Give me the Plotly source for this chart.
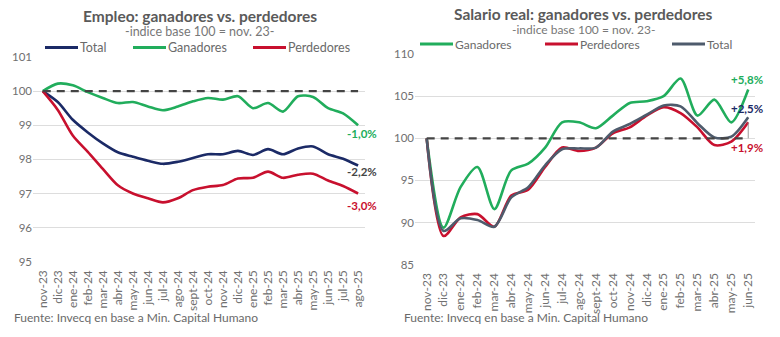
import plotly.graph_objects as go

W, H = 780, 337

# ---------------- Data ----------------
meses_emp = ["nov-23", "dic-23", "ene-24", "feb-24", "mar-24", "abr-24", "may-24", "jun-24",
             "jul-24", "ago-24", "sept-24", "oct-24", "nov-24", "dic-24", "ene-25", "feb-25",
             "mar-25", "abr-25", "may-25", "jun-25", "jul-25", "ago-25"]
emp_total = [100, 99.68, 99.16, 98.79, 98.47, 98.21, 98.08, 97.96, 97.87, 97.93, 98.04, 98.15,
             98.15, 98.25, 98.13, 98.30, 98.15, 98.32, 98.38, 98.15, 98.02, 97.82]
emp_ganadores = [100, 100.22, 100.17, 99.97, 99.80, 99.65, 99.68, 99.55, 99.44, 99.55, 99.70, 99.80,
                 99.75, 99.85, 99.50, 99.65, 99.40, 99.85, 99.83, 99.50, 99.35, 99.00]
emp_perdedores = [100, 99.45, 98.70, 98.22, 97.72, 97.24, 97.00, 96.86, 96.74, 96.86, 97.10, 97.20,
                  97.25, 97.44, 97.46, 97.64, 97.46, 97.55, 97.58, 97.38, 97.22, 97.00]

meses_sal = ["nov-23", "dic-23", "ene-24", "feb-24", "mar-24", "abr-24", "may-24", "jun-24",
             "jul-24", "ago-24", "sept-24", "oct-24", "nov-24", "dic-24", "ene-25", "feb-25",
             "mar-25", "abr-25", "may-25", "jun-25"]
sal_ganadores = [100, 89.4, 94.2, 96.6, 91.6, 96.2, 97.0, 98.9, 101.9, 101.9, 101.2, 102.7,
                 104.2, 104.4, 105.0, 107.1, 102.7, 104.6, 101.9, 105.8]
sal_perdedores = [100, 88.4, 90.6, 91.0, 89.5, 93.2, 93.9, 96.6, 98.9, 98.5, 98.9, 100.6,
                  101.3, 102.7, 103.7, 103.0, 101.3, 99.2, 99.6, 101.9]
sal_total = [100, 89.0, 90.5, 90.3, 89.5, 93.0, 94.2, 96.8, 98.7, 98.8, 98.9, 100.8,
             101.7, 102.8, 103.9, 103.8, 101.8, 100.1, 100.2, 102.5]

emp_labels = ["-1,0%", "-2,2%", "-3,0%"]
sal_labels = ["+5,8%", "+2,5%", "+1,9%"]

# ---------------- Styles ----------------
GREEN = "#21ad5c"
NAVY = "#1b2a66"
RED = "#c8102e"
SLATE = "#4e5b6c"
DASH = "#444444"
GRID = "#dddddd"
TXT = "#707070"
FONT = "Lato, Open Sans, sans-serif"


def px_x(p):
    return p / W


def px_y(p):
    return 1 - p / H


fig = go.Figure()

# Left chart (x, y)
for name, vals, col in [("Total", emp_total, NAVY), ("Ganadores", emp_ganadores, GREEN),
                        ("Perdedores", emp_perdedores, RED)]:
    fig.add_trace(go.Scatter(x=meses_emp, y=vals, name=name, mode="lines",
                             line=dict(color=col, width=2.6, shape="spline", smoothing=0.8),
                             xaxis="x", yaxis="y", showlegend=False))
fig.add_trace(go.Scatter(x=[meses_emp[0], meses_emp[-1]], y=[100, 100], mode="lines",
                         line=dict(color=DASH, width=2.2, dash="8px,6px"),
                         xaxis="x", yaxis="y", showlegend=False, hoverinfo="skip"))

# Right chart (x2, y2)
for name, vals, col in [("Ganadores", sal_ganadores, GREEN), ("Perdedores", sal_perdedores, RED),
                        ("Total", sal_total, SLATE)]:
    fig.add_trace(go.Scatter(x=meses_sal, y=vals, name=name, mode="lines",
                             line=dict(color=col, width=2.6, shape="spline", smoothing=0.8),
                             xaxis="x2", yaxis="y2", showlegend=False))
fig.add_trace(go.Scatter(x=[meses_sal[0], meses_sal[-1]], y=[100, 100], mode="lines",
                         line=dict(color=DASH, width=2.2, dash="8px,6px"),
                         xaxis="x2", yaxis="y2", showlegend=False, hoverinfo="skip"))
fig.add_trace(go.Scatter(x=[meses_sal[-1], meses_sal[-1]], y=[100, sal_perdedores[-1]], mode="lines",
                         line=dict(color="#999999", width=1),
                         xaxis="x2", yaxis="y2", showlegend=False, hoverinfo="skip"))

xcommon = dict(type="category", showgrid=False, showline=False, zeroline=False,
               tickangle=-90, tickfont=dict(family=FONT, size=12, color=TXT), ticks="",
               ticklabelstandoff=5, fixedrange=True)
ycommon = dict(showgrid=True, gridcolor=GRID, gridwidth=1, zeroline=False, showline=False,
               tickfont=dict(family=FONT, size=11.5, color=TXT), ticks="", fixedrange=True)

fig.update_layout(
    width=W, height=H,
    margin=dict(l=0, r=0, t=0, b=0),
    paper_bgcolor="white", plot_bgcolor="white",
    font=dict(family=FONT),
    xaxis=dict(xcommon, domain=[px_x(33), px_x(365)], range=[-0.65, 21.46], anchor="y",
               categoryorder="array", categoryarray=meses_emp),
    yaxis=dict(ycommon, domain=[px_y(265), px_y(52)], range=[95, 101], dtick=1, anchor="x"),
    xaxis2=dict(xcommon, domain=[px_x(415), px_x(755)], range=[-0.69, 19.4], anchor="y2",
                categoryorder="array", categoryarray=meses_sal),
    yaxis2=dict(ycommon, domain=[px_y(268), px_y(49)], range=[85, 110], dtick=5, anchor="x2"),
)

ann = []
shapes = []

# Titles
ann.append(dict(text="<b>Empleo: ganadores vs. perdedores</b>", x=px_x(200), y=px_y(9),
                xref="paper", yref="paper", showarrow=False, xanchor="center", yanchor="middle",
                font=dict(family=FONT, size=15.5, color="#5a5a5a")))
ann.append(dict(text="-indice base 100 = nov. 23-", x=px_x(200), y=px_y(26),
                xref="paper", yref="paper", showarrow=False, xanchor="center", yanchor="middle",
                font=dict(family=FONT, size=12.5, color="#777777")))
ann.append(dict(text="<b>Salario real: ganadores vs. perdedores</b>", x=px_x(583), y=px_y(7),
                xref="paper", yref="paper", showarrow=False, xanchor="center", yanchor="middle",
                font=dict(family=FONT, size=15.5, color="#5a5a5a")))
ann.append(dict(text="-indice base 100 = nov. 23-", x=px_x(583), y=px_y(23.5),
                xref="paper", yref="paper", showarrow=False, xanchor="center", yanchor="middle",
                font=dict(family=FONT, size=12, color="#777777")))

# Manual legends
legend_items = [
    (45, 42, "Total", NAVY, 12.5), (133, 42, "Ganadores", GREEN, 12.5),
    (253, 42, "Perdedores", RED, 12.5),
    (420, 38.5, "Ganadores", GREEN, 12), (545, 38.5, "Perdedores", RED, 12),
    (672, 38.5, "Total", SLATE, 12),
]
for x0, yy, label, col, fs in legend_items:
    shapes.append(dict(type="line", xref="paper", yref="paper", x0=px_x(x0), x1=px_x(x0 + 33),
                       y0=px_y(yy), y1=px_y(yy), line=dict(color=col, width=3)))
    ann.append(dict(text=label, x=px_x(x0 + 34), y=px_y(yy), xref="paper", yref="paper",
                    showarrow=False, xanchor="left", yanchor="middle", borderpad=0,
                    font=dict(family=FONT, size=fs, color="#6a6a6a")))

# End labels (left)
for lab, vals, col, ys in zip(emp_labels, [emp_ganadores, emp_total, emp_perdedores],
                              [GREEN, "#444444", RED], [0, 3, -3]):
    ann.append(dict(text=f"<b>{lab}</b>", x=meses_emp[-1], y=vals[-1], xref="x", yref="y",
                    showarrow=False, xanchor="center", yanchor="top", yshift=ys, xshift=4,
                    font=dict(family=FONT, size=11.5, color=col)))

# End labels (right)
sal_pos = [(GREEN, sal_ganadores, 1, "bottom"), (NAVY, sal_total, 0, "bottom"),
           (RED, sal_perdedores, -17, "top")]
for lab, (col, vals, ys, anc) in zip(sal_labels, sal_pos):
    ann.append(dict(text=f"<b>{lab}</b>", x=meses_sal[-1], y=vals[-1], xref="x2", yref="y2",
                    showarrow=False, xanchor="center", yanchor=anc, yshift=ys, xshift=-1,
                    font=dict(family=FONT, size=11.5, color=col)))

# Sources
ann.append(dict(text="Fuente: Invecq en base a Min. Capital Humano", x=px_x(12), y=px_y(323),
                xref="paper", yref="paper", showarrow=False, xanchor="left", yanchor="middle",
                font=dict(family=FONT, size=12, color="#6a6a6a")))
ann.append(dict(text="Fuente: Invecq en base a Min. Capital Humano", x=px_x(402), y=px_y(323),
                xref="paper", yref="paper", showarrow=False, xanchor="left", yanchor="middle",
                font=dict(family=FONT, size=12, color="#6a6a6a")))

fig.update_layout(annotations=ann, shapes=shapes)
fig.write_html("out.html")
